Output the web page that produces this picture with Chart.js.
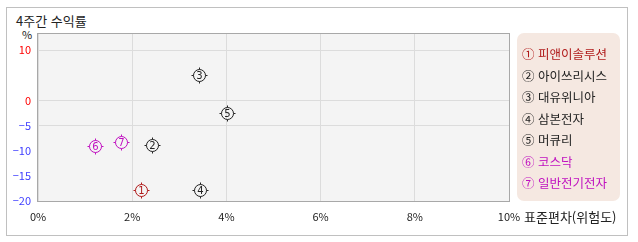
<!DOCTYPE html>
<html lang="ko">
<head>
<meta charset="utf-8">
<script src="https://cdn.jsdelivr.net/npm/chart.js@4.4.1/dist/chart.umd.min.js"></script>
<style>
  html, body { margin: 0; padding: 0; background: #fff; }
  body { width: 638px; height: 242px; position: relative; overflow: hidden;
         font-family: 'Noto Sans CJK KR', 'Noto Sans', sans-serif; }
  .frame { position: absolute; left: 6px; top: 7px; width: 620px; height: 227px; border: 1px solid #c0c0c0; }
  .title { position: absolute; left: 16px; top: 11px; font-size: 13px; color: #222; line-height: 19px; }
  .unit { position: absolute; left: 22px; top: 27px; font-size: 11px; color: #222; line-height: 14px; }
  .xtitle { position: absolute; left: 524px; top: 207px; font-size: 13px; color: #222; line-height: 19px; }
  #chartWrap { position: absolute; left: 0; top: 0; width: 638px; height: 242px; }
  .legend { position: absolute; left: 517px; top: 33px; width: 103px; height: 168px;
            background: #f5e8e1; border-radius: 7px; }
  .legend div { position: absolute; left: 5px; font-size: 12.5px; line-height: 18px; white-space: nowrap; }
</style>
</head>
<body>
<div class="frame"></div>
<div class="title">4주간 수익률</div>
<div class="unit">%</div>
<div id="chartWrap"><canvas id="riskChart" width="638" height="242"></canvas></div>
<div class="legend" id="legend"></div>
<div class="xtitle">표준편차(위험도)</div>

<script>
// Data
const names = ['피앤이솔루션', '아이쓰리시스', '대유위니아', '삼본전자', '머큐리', '코스닥', '일반전기전자'];
const marks = ['①', '②', '③', '④', '⑤', '⑥', '⑦'];
const stdDev = [2.19, 2.42, 3.41, 3.44, 4.02, 1.20, 1.76];
const returns4w = [-17.9, -8.9, 5.0, -17.9, -2.6, -9.0, -8.2];
const colors = ['#b01a1a', '#222222', '#222222', '#222222', '#222222', '#c010c0', '#c010c0'];
const yTicks = [10, 0, -5, -10, -15, -20];
const xTicks = [0, 2, 4, 6, 8, 10];

// HTML legend
const legendEl = document.getElementById('legend');
names.forEach((n, i) => {
    const row = document.createElement('div');
    row.style.top = (12 + i * 21.5) + 'px';
    row.style.color = colors[i];
    row.textContent = marks[i] + ' ' + n;
    legendEl.appendChild(row);
});

// plot background + border
const areaStyle = {
    id: 'areaStyle',
    beforeDraw(chart) {
        const { ctx, chartArea: a } = chart;
        ctx.save();
        ctx.fillStyle = '#f4f4f4';
        ctx.fillRect(a.left, a.top, a.right - a.left, a.bottom - a.top);
        ctx.restore();
    },
    afterDraw(chart) {
        const { ctx, chartArea: a } = chart;
        ctx.save();
        ctx.strokeStyle = '#a8a8a8';
        ctx.lineWidth = 1;
        ctx.strokeRect(a.left - 0.5, a.top - 0.5, a.right - a.left + 1, a.bottom - a.top + 1);
        ctx.restore();
    }
};

// circled number markers
const markers = {
    id: 'markers',
    afterDatasetsDraw(chart) {
        const ctx = chart.ctx;
        const meta = chart.getDatasetMeta(0);
        ctx.save();
        meta.data.forEach((pt, i) => {
            const x = Math.round(pt.x) + 0.5, y = Math.round(pt.y) + 0.5;
            ctx.strokeStyle = colors[i];
            ctx.lineWidth = 1;
            ctx.beginPath();
            ctx.arc(x, y, 6, 0, Math.PI * 2);
            ctx.stroke();
            ctx.beginPath();
            ctx.moveTo(x, y - 6); ctx.lineTo(x, y - 8);
            ctx.moveTo(x, y + 6); ctx.lineTo(x, y + 8);
            ctx.moveTo(x - 6, y); ctx.lineTo(x - 8, y);
            ctx.moveTo(x + 6, y); ctx.lineTo(x + 8, y);
            ctx.stroke();
            ctx.fillStyle = colors[i];
            ctx.font = '10px "DejaVu Sans"';
            ctx.textAlign = 'center';
            ctx.textBaseline = 'middle';
            ctx.fillText(String(i + 1), x, y + 0.5);
        });
        ctx.restore();
    }
};

new Chart(document.getElementById('riskChart'), {
    type: 'scatter',
    data: {
        datasets: [{
            data: stdDev.map((x, i) => ({ x: x, y: returns4w[i] })),
            pointRadius: 0,
            pointHoverRadius: 0
        }]
    },
    options: {
        responsive: false,
        animation: false,
        events: [],
        layout: { padding: { left: 0, top: 34, right: 129, bottom: 21 } },
        plugins: { legend: { display: false }, tooltip: { enabled: false } },
        scales: {
            x: {
                type: 'linear',
                min: 0,
                max: 10,
                afterFit(s) { s.height = 20; },
                afterBuildTicks(s) { s.ticks = xTicks.map(v => ({ value: v })); },
                grid: { color: '#dcdcdc', drawTicks: false },
                border: { display: false },
                ticks: {
                    padding: 9,
                    color: '#222',
                    font: { family: 'Noto Sans CJK KR', size: 11 },
                    callback: v => v + '%'
                }
            },
            y: {
                type: 'linear',
                min: -20,
                max: 13.2,
                afterFit(s) { s.width = 38; },
                afterBuildTicks(s) { s.ticks = yTicks.map(v => ({ value: v })); },
                grid: {
                    drawTicks: false,
                    color: c => (c.tick && c.tick.value >= -5 ? '#dcdcdc' : 'rgba(0,0,0,0)')
                },
                border: { display: false },
                ticks: {
                    padding: 7,
                    font: { family: 'Noto Sans CJK KR', size: 11 },
                    color: c => (c.tick.value >= 0 ? '#ff0000' : '#3d3dff'),
                    callback: v => (v < 0 ? '\u2212' + Math.abs(v) : String(v))
                }
            }
        }
    },
    plugins: [areaStyle, markers]
});
</script>
</body>
</html>
